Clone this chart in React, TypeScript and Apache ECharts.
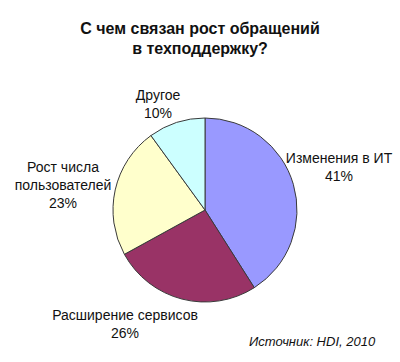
import React, { useEffect, useRef } from "react";
import * as echarts from "echarts";

const TITLE = "С чем связан рост обращений\nв техподдержку?";
const SOURCE = "Источник: HDI, 2010";
const categories = ["Изменения в ИТ", "Расширение сервисов", "Рост числа\nпользователей", "Другое"];
const shares = [41, 26, 23, 10];
const colors = ["#9999ff", "#993366", "#ffffcc", "#ccffff"];

// label anchor points (layout only)
const LABEL_XY: [number, number][] = [
  [339, 166.5],
  [125, 324],
  [63, 185],
  [158, 103.5],
];

export default function App() {
  const ref = useRef<HTMLDivElement>(null);
  useEffect(() => {
    if (!ref.current) return;
    const chart = echarts.init(ref.current, undefined, { renderer: "svg" });
    const font = "Arial, 'Liberation Sans', sans-serif";
    chart.setOption({
      animation: false,
      backgroundColor: "#ffffff",
      title: [
        {
          text: TITLE,
          left: "center",
          top: 13,
          textStyle: { fontFamily: font, fontSize: 16, fontWeight: "bold", color: "#111", lineHeight: 20 },
        },
        {
          text: SOURCE,
          left: 244,
          top: 330,
          textStyle: { fontFamily: font, fontSize: 13, fontStyle: "italic", fontWeight: "normal", color: "#111" },
        },
      ],
      series: [
        {
          type: "pie",
          center: [205, 210],
          radius: 92,
          startAngle: 90,
          clockwise: true,
          data: categories.map((c, i) => ({ name: c, value: shares[i], itemStyle: { color: colors[i] } })),
          itemStyle: { borderColor: "#3a3a3a", borderWidth: 1 },
          label: {
            show: true,
            position: "outside",
            alignTo: "none",
            overflow: "none",
            edgeDistance: 0,
            formatter: (p: any) => `${p.name}\n${p.value}%`,
            fontFamily: font,
            fontSize: 14,
            lineHeight: 18,
            color: "#111",
            align: "center",
          },
          labelLine: { show: false },
          labelLayout: (params: any) => {
            const [x, y] = LABEL_XY[params.dataIndex];
            return { x, y, align: "center", verticalAlign: "middle" };
          },
          emphasis: { disabled: true },
        },
      ],
    });
    return () => chart.dispose();
  }, []);
  return <div ref={ref} style={{ position: "fixed", left: 0, top: 0, width: 400, height: 362 }} />;
}
